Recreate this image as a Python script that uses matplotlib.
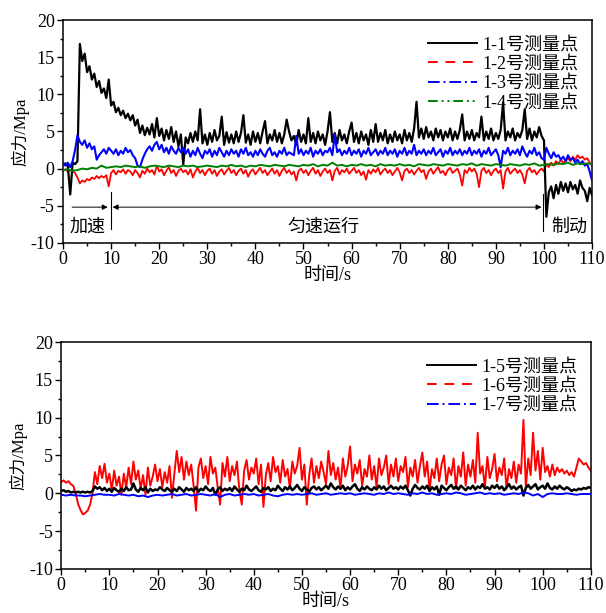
import numpy as np
import matplotlib
matplotlib.use("Agg")
import matplotlib.pyplot as plt
from matplotlib.lines import Line2D
from matplotlib.ticker import MultipleLocator

plt.rcParams['font.family'] = ['Liberation Serif', 'Noto Sans CJK SC']
plt.rcParams['axes.unicode_minus'] = False

# time axes: 0.5 s and 1 s sampling
t_half = np.arange(0, 110.01, 0.5)
t_one = np.arange(0, 110.01, 1.0)

# ---- upper panel: 1-1 .. 1-4 (MPa) ----
s11 = [0.5, 0.7, 0.3, -3.5, 0.8, 0.6, 1.0, 16.8, 14.5, 15.5,
       13.0, 13.8, 12.0, 12.8, 11.0, 11.8, 10.2, 10.8, 9.5, 12.0,
       8.5, 9.0, 7.6, 8.2, 7.2, 7.8, 6.8, 7.4, 6.5, 7.2,
       5.8, 6.6, 4.8, 5.8, 4.5, 5.5, 4.6, 6.0, 4.2, 6.8,
       4.4, 5.4, 3.8, 5.2, 4.0, 5.6, 3.6, 5.0, 3.0, 4.6,
       0.5, 4.2, 3.4, 4.8, 3.6, 5.0, 3.8, 8.0, 3.4, 4.6,
       3.2, 4.8, 3.6, 5.2, 3.8, 4.4, 7.0, 3.2, 4.9, 3.5,
       4.6, 3.4, 5.0, 3.6, 4.8, 7.2, 3.5, 4.6, 3.2, 5.0,
       3.6, 4.8, 3.4, 5.0, 6.4, 3.4, 4.6, 3.8, 5.2, 3.6,
       4.8, 3.4, 4.6, 6.6, 5.0, 3.8, 4.4, 3.2, 5.2, 3.6,
       4.6, 3.4, 6.8, 3.6, 4.8, 3.4, 5.0, 3.8, 4.6, 3.2,
       5.0, 7.6, 3.6, 4.8, 3.4, 5.2, 3.8, 4.6, 3.4, 5.0,
       6.2, 3.6, 4.8, 3.4, 5.0, 3.8, 4.6, 3.2, 5.2, 3.6,
       6.0, 3.6, 4.8, 3.8, 5.2, 3.4, 4.6, 3.6, 5.0, 3.8,
       4.6, 3.4, 5.2, 3.8, 4.8, 3.6, 5.4, 9.0, 4.2, 5.4,
       4.0, 5.6, 4.2, 5.0, 3.8, 5.4, 4.2, 5.2, 3.8, 5.0,
       4.2, 5.4, 3.8, 5.0, 4.0, 5.2, 7.3, 3.8, 5.0, 4.0,
       5.2, 3.8, 4.8, 4.2, 7.0, 3.8, 5.0, 4.0, 5.4, 3.8,
       4.8, 4.0, 5.2, 8.9, 3.8, 5.0, 4.2, 5.4, 3.8, 4.8,
       4.2, 5.2, 8.0, 4.0, 5.4, 3.8, 5.0, 4.2, 5.6, 4.4,
       3.8, -6.5, -3.2, -2.4, -4.0, -2.2, -3.4, -1.8, -3.0, -2.0,
       -3.2, -1.8, -2.8, -2.2, -3.4, -1.6, -2.6, -3.0, -4.4, -2.6,
       -3.6]

s12 = [-0.3, -0.1, -0.4, -0.2, -0.3, -0.6, -1.2, -2.0, -1.6, -1.8,
       -1.4, -1.6, -1.2, -1.4, -1.0, -1.3, -1.0, -1.2, -0.9, -2.4,
       -0.6, -0.2, -0.8, -0.3, -0.5, -0.1, -0.7, -0.2, -0.4, -0.9,
       -0.2, -0.6, -1.2, -0.3, -0.7, 0.0, -0.5, -0.2, -0.8, 0.4,
       -0.4, -0.1, -0.9, -0.3, 0.2, -0.6, -0.2, -1.0, -0.3, 0.0,
       -0.5, -0.2, -0.8, -0.1, -1.2, -0.4, 0.1, -0.6, -0.2, -0.9,
       -0.3, 0.0, -0.7, -0.2, -1.0, -0.4, -0.1, -0.8, -0.3, 0.1,
       -0.6, -0.2, -0.9, -0.3, 0.0, -0.7, -0.2, -1.1, -0.4, -0.1,
       -0.8, -0.3, 0.1, -0.6, -0.2, -0.9, -0.4, 0.0, -0.7, -0.2,
       -1.0, -0.3, 0.1, -0.6, -0.2, -0.8, -0.4, -1.6, -0.3, 0.0,
       -0.6, -0.2, -0.9, -0.3, 0.1, -0.7, -0.2, -1.0, -0.4, 0.0,
       -0.6, -0.2, -1.6, -0.3, 0.1, -0.8, -0.2, -0.5, 0.0, -0.7,
       -0.3, 0.1, -0.6, -0.2, -0.9, -0.4, -1.5, -0.2, -0.7, -0.1,
       -0.5, 0.1, -0.8, -0.3, 0.0, -0.6, -0.2, -0.9, -0.4, 0.1,
       -0.5, -1.6, -0.3, 0.0, -0.6, -0.2, -0.8, -0.3, 0.1, -0.5,
       -0.2, -1.4, -0.4, 0.0, -0.7, -0.2, 0.2, -0.6, -0.3, -0.9,
       -0.2, 0.1, -0.6, -0.3, 0.0, -0.8, -2.3, -0.2, -0.6, 0.1,
       -0.4, 0.0, -0.7, -2.5, -0.3, 0.1, -0.6, -0.2, -0.9, -0.3,
       0.0, -0.6, -0.2, -2.7, -0.4, 0.1, -0.7, -0.3, 0.0, -0.6,
       -0.2, -0.8, -2.0, -0.3, 0.1, -0.5, -0.2, -0.8, -0.3, 0.0,
       -0.4, 0.6, 0.2, 0.8, 0.4, 1.0, 0.6, 1.2, 0.8, 1.0,
       1.4, 1.0, 1.6, 1.2, 1.8, 1.4, 1.6, 1.2, 1.4, 0.8,
       0.4]

s13 = [0.6, 0.4, 0.8, 0.2, 1.0, 2.5, 4.5, 3.6, 3.2, 3.8,
       2.8, 3.4, 2.6, 3.0, 1.2, 1.8, 2.2, 2.6, 2.0, 2.8,
       2.4, 2.0, 2.6, 1.8, 2.4, 2.0, 2.8, 2.2, 2.5, 1.8,
       1.4, 0.4, 0.2, 1.2, 2.0, 2.6, 3.0, 2.4, 3.2, 3.6,
       2.6, 3.2, 2.2, 2.8, 2.0, 3.0, 2.4, 2.0, 2.8, 2.2,
       2.8, 2.0, 2.6, 1.6, 2.4, 1.8, 2.8, 2.0, 1.4, 2.4,
       2.0, 2.6, 1.6, 2.4, 1.8, 2.8, 2.2, 1.6, 2.4, 1.8,
       2.6, 2.0, 2.4, 1.6, 2.6, 2.0, 2.8, 1.8, 2.2, 1.6,
       2.4, 1.8, 2.6, 2.0, 1.6, 2.4, 2.8, 1.8, 2.2, 1.6,
       2.4, 2.0, 2.8, 1.8, 2.2, 2.0, 1.8, 4.4, 2.0, 2.6,
       1.8, 2.4, 2.0, 2.8, 1.6, 2.4, 2.0, 2.6, 1.8, 2.4,
       2.2, 2.8, 1.8, 4.6, 2.2, 2.6, 1.8, 2.4, 2.0, 2.8,
       1.8, 2.4, 2.0, 2.6, 1.6, 2.4, 2.0, 2.8, 1.8, 2.2,
       2.6, 1.8, 2.4, 2.0, 2.8, 1.8, 2.4, 2.0, 2.6, 1.6,
       2.4, 2.0, 2.8, 1.8, 2.4, 2.0, 3.2, 1.8, 2.4, 2.0,
       2.6, 1.8, 2.4, 2.0, 2.8, 1.8, 2.2, 2.6, 1.6, 2.4,
       2.0, 2.8, 1.8, 2.4, 2.0, 2.6, 1.8, 2.4, 2.0, 2.8,
       1.8, 2.4, 2.0, 2.6, 1.6, 2.4, 2.0, 2.8, 1.8, 2.2,
       2.6, 1.8, 0.2, 2.4, 2.0, 2.8, 1.8, 2.4, 2.0, 2.6,
       1.8, 3.0, 2.2, 1.6, 2.4, 2.0, 2.8, 1.8, 2.2, 1.4,
       1.2, 2.8, 2.0, 1.4, 2.2, 1.6, 1.8, 1.2, 1.6, 1.0,
       1.8, 1.2, 1.4, 0.8, 1.2, 0.6, 1.0, 0.4, 0.6, -0.4,
       -1.6]

s14 = [-0.2, -0.1, -0.3, -0.2, 0.0, -0.1, 0.1, 0.0, 0.4, 0.1,
       0.2, 0.3, 0.2, 0.4, 0.3, 0.2, 0.3, 0.1, 0.3, 0.4,
       0.3, 0.2, 0.4, 0.3, 0.2, 0.4, 0.3, 0.4, 0.2, 0.3,
       0.4, 0.3, 0.2, 0.4, 0.3, 0.5, 0.3, 0.4, 0.2, 0.4,
       0.3, 0.5, 0.4, 0.3, 0.5, 0.4, 0.3, 0.5, 0.4, 0.3,
       0.5, 0.4, 0.6, 0.3, 0.5, 0.4, 0.8, 0.4, 0.5, 0.3,
       0.5, 0.4, 0.6, 0.4, 0.5, 0.3, 0.6, 0.4, 0.5, 0.4,
       0.6, 0.4, 0.5, 0.3, 0.6, 0.5, 0.4, 0.6, 0.5, 0.4,
       0.6, 0.5, 0.4, 0.6, 0.5, 0.7, 0.4, 0.6, 0.5, 0.4,
       0.6, 0.5, 0.4, 0.6, 0.5, 0.4, 0.6, 0.5, 0.7, 0.4,
       0.5, 0.6, 0.5, 0.7, 0.6, 0.8, 0.5, 0.7, 0.6, 0.7, 0.6]

# ---- lower panel: 1-5 .. 1-7 (MPa) ----
s15 = [0.3, 0.4, 0.2, 0.3, 0.1, 0.2, 0.1, 0.2, 0.1, 0.2,
       0.1, 0.2, 0.1, 0.3, 0.9, 0.6, 0.8, 0.4, 0.7, 0.3,
       0.6, 0.2, 0.7, 0.4, 0.2, 0.6, 0.3, 0.8, 0.4, 0.5,
       1.3, 0.5, 0.2, 0.7, 0.4, 0.8, 0.1, 0.6, 0.3, 0.5,
       0.4, 0.8, 0.5, 0.3, 0.7, 0.4, 0.2, 0.6, 0.3, 0.8,
       0.5, 0.2, 0.7, 0.4, 0.6, 0.3, 0.8, 0.2, 0.6, 0.4,
       0.9, 0.5, 0.3, 0.7, -0.2, 0.5, 0.8, 0.3, 0.6, 0.4,
       0.7, 0.3, 0.9, 0.5, 0.2, 0.6, 0.4, 1.0, 0.5, 0.3,
       0.6, 0.9, 0.4, 0.2, 0.7, 0.5, 0.8, 0.3, 0.6, 0.4,
       1.0, 0.6, 0.3, 0.8, 0.5, 0.9, 0.4, 0.7, 1.1, 0.6,
       0.3, 0.8, 0.5, 0.2, 0.7, 0.9, 0.5, 0.8, 0.4, 0.7,
       1.0, 0.6, 1.3, 0.8, 0.5, 0.9, 0.6, 1.0, 0.4, 0.8,
       0.5, 0.9, 1.2, 0.6, 0.3, 0.8, 0.5, 0.9, 0.6, 0.4,
       0.8, 0.5, 1.0, 0.6, 0.9, 0.4, 0.7, 1.0, 0.6, 0.8,
       0.5, 0.9, 0.6, 1.0, 0.4, -0.3, 0.6, 1.1, 0.7, 0.5,
       0.9, 0.6, 1.0, 0.3, 0.8, 0.5, 0.9, -0.2, 1.0, 0.7,
       0.4, 0.8, 1.1, 0.6, 0.9, 0.5, 1.0, 0.7, 0.4, 0.8,
       0.6, 1.0, 0.5, 0.9, 0.7, 1.2, 0.6, 0.8, 0.5, 1.0,
       0.7, 1.1, 0.6, 0.9, 0.4, 0.8, 1.2, 0.6, 0.9, 0.5,
       0.8, 1.0, -0.3, 0.7, 1.1, 0.6, 0.9, 1.2, 0.5, 0.8,
       1.0, 0.6, 1.3, 0.7, 0.5, 0.9, 0.6, 1.0, 0.7, 0.5,
       0.8, 0.6, 0.3, 0.5, 0.4, 0.6, 0.5, 0.7, 0.6, 0.8,
       0.7]

s16 = [1.5, 1.7, 1.4, 1.6, 1.2, 1.0, 0.0, -1.4, -2.2, -2.8,
       -2.6, -2.3, -1.5, 0.0, 2.8, 1.2, 3.6, 2.0, 3.9, 1.4,
       2.6, 0.4, 3.0, 1.0, 2.2, -0.2, 2.6, 0.8, 3.4, 1.2,
       4.2, 1.8, 3.0, 0.6, 2.4, -0.2, 3.4, 1.0, 2.2, 3.8,
       1.6, 3.2, 0.8, 2.8, 1.4, 3.6, -0.6, 2.6, 5.6, 2.8,
       4.8, 1.8, 4.2, 2.4, 3.8, 1.0, -2.3, 3.4, 4.6, 2.0,
       3.6, 1.2, 4.8, 2.6, 3.4, 0.8, -1.5, 4.0, 2.2, 4.8,
       1.6, 3.6, 2.4, 4.2, 0.4, -1.5, 3.0, 4.4, 1.8, 3.4,
       2.6, 4.6, 1.2, 3.8, -1.8, 2.4, 4.0, 1.6, 4.8, 2.8,
       3.6, 1.4, 4.4, 2.2, 3.2, 0.6, 4.2, 2.6, 3.6, 6.0,
       1.8, 3.8, -1.5, 2.4, 4.6, 1.4, 3.6, 2.0, 4.2, 2.8,
       1.2, 5.6, 2.4, 4.0, 1.8, 3.4, 0.6, 4.6, 2.2, 3.6,
       6.2, 1.6, 3.8, 2.6, 4.4, 1.0, 3.2, 2.2, 5.0, 1.8,
       3.6, 0.8, 4.6, 2.4, 3.4, 5.0, 1.2, 3.8, 2.2, 4.6,
       1.6, 3.6, 2.8, 4.8, 0.8, 3.4, 2.2, 4.4, 1.4, 3.6,
       5.4, 2.2, 4.2, 0.4, 3.2, 2.0, 4.6, 1.6, 3.8, 5.0,
       1.2, 3.4, 2.4, 4.6, 0.6, 3.6, 2.2, 5.4, 1.0, 3.8,
       2.2, 4.4, 1.4, 8.0, 2.6, 3.6, 0.8, 4.8, 2.0, 3.2,
       5.2, 1.6, 3.4, 2.4, 4.6, 0.6, 3.2, 2.0, 4.2, 1.4,
       3.8, 2.6, 9.7, 0.8, 4.6, 2.4, 8.0, 3.0, 5.6, 1.8,
       6.0, 2.8, 3.6, 2.2, 3.8, 2.4, 3.4, 2.8, 3.2, 2.6,
       3.0, 2.4, 2.8, 2.2, 3.4, 4.6, 4.2, 3.8, 4.0, 3.4,
       3.0]

s17 = [-0.2, -0.3, -0.2, -0.3, -0.3, -0.4, -0.3, -0.2, -0.1, -0.2,
       -0.2, -0.3, -0.1, -0.2, -0.3, -0.2, -0.4, -0.3, -0.5, -0.3,
       -0.2, -0.3, -0.2, -0.1, -0.3, -0.2, -0.1, -0.3, -0.2, -0.1,
       -0.2, -0.3, -0.1, -0.5, -0.2, -0.1, -0.3, -0.2, -0.1, -0.2,
       -0.1, -0.3, -0.2, -0.1, -0.3, -0.4, -0.2, -0.1, -0.2, -0.1,
       -0.2, -0.1, 0.0, -0.2, -0.1, 0.0, -0.2, -0.1, 0.0, -0.1,
       0.0, -0.2, -0.1, 0.0, -0.1, -0.2, 0.0, -0.1, 0.1, -0.1,
       0.0, -0.1, -0.2, 0.0, -0.1, 0.1, -0.1, 0.0, -0.2, -0.1,
       0.0, -0.1, 0.1, 0.0, -0.2, -0.1, 0.0, 0.1, -0.1, 0.0,
       -0.1, 0.0, -0.2, -0.1, 0.0, -0.1, 0.1, 0.0, -0.3, -0.1,
       -0.5, -0.1, 0.0, -0.1, -0.1, 0.0, -0.1, -0.2, -0.1, -0.1, -0.1]

top_labels = ["1-1号测量点", "1-2号测量点", "1-3号测量点", "1-4号测量点"]
bot_labels = ["1-5号测量点", "1-6号测量点", "1-7号测量点"]
colors_top = ["black", "red", "blue", "green"]
colors_bot = ["black", "red", "blue"]
styles_top = ["-", (0, (5, 4)), (0, (6, 2, 1, 2)), (0, (5, 2, 1, 2, 1, 2))]
styles_bot = ["-", (0, (5, 4)), (0, (6, 2, 1, 2))]

fig = plt.figure(figsize=(6.06, 6.13), dpi=100)
ax1 = fig.add_axes([0.104, 0.604, 0.873, 0.363])
ax2 = fig.add_axes([0.101, 0.072, 0.874, 0.370])


def style_axis(ax):
    ax.set_xlim(0, 110)
    ax.set_ylim(-10, 20)
    ax.xaxis.set_major_locator(MultipleLocator(10))
    ax.xaxis.set_minor_locator(MultipleLocator(5))
    ax.yaxis.set_major_locator(MultipleLocator(5))
    ax.yaxis.set_minor_locator(MultipleLocator(2.5))
    ax.tick_params(which='both', direction='out', labelsize=13, width=1.0, pad=2)
    ax.tick_params(which='major', length=4)
    ax.tick_params(which='minor', length=2.5)
    for sp in ax.spines.values():
        sp.set_linewidth(1.1)
    ax.set_xlabel("时间/s", fontsize=13, labelpad=-1)
    ax.set_ylabel("应力/Mpa", fontsize=12, labelpad=1)


# upper panel
ax1.plot(t_half, s11, color="black", lw=1.6, zorder=3)
ax1.plot(t_half, s13, color="blue", lw=1.5, zorder=4)
ax1.plot(t_half, s12, color="red", lw=1.3, zorder=2)
ax1.plot(t_one, s14, color="green", lw=1.4, zorder=5)
style_axis(ax1)

handles = [Line2D([], [], color=c, ls=s, lw=1.4) for c, s in zip(colors_top, styles_top)]
ax1.legend(handles, top_labels, loc='upper right', frameon=False, fontsize=13,
           handlelength=2.7, handletextpad=0.3, labelspacing=0.12,
           borderaxespad=0.2, bbox_to_anchor=(0.995, 0.975))

# stage markers
ax1.plot([10, 10], [-3.2, -8.2], color="black", lw=0.8)
ax1.plot([99.7, 99.7], [-3.4, -8.4], color="black", lw=0.8)
ax1.annotate("", xy=(9.3, -5.2), xytext=(1.9, -5.2),
             arrowprops=dict(arrowstyle="-|>", color="black", lw=0.7,
                             mutation_scale=8, shrinkA=0, shrinkB=0))
ax1.annotate("", xy=(99.5, -5.2), xytext=(10.3, -5.2),
             arrowprops=dict(arrowstyle="<|-|>", color="black", lw=0.7,
                             mutation_scale=8, shrinkA=0, shrinkB=0))
ax1.text(5.0, -7.9, "加速", fontsize=13, ha='center', va='center')
ax1.text(54.2, -7.9, "匀速运行", fontsize=13, ha='center', va='center')
ax1.text(105.2, -7.9, "制动", fontsize=13, ha='center', va='center')

# lower panel
ax2.plot(t_half, s16, color="red", lw=1.4, zorder=2)
ax2.plot(t_half, s15, color="black", lw=1.8, zorder=3)
ax2.plot(t_one, s17, color="blue", lw=1.4, zorder=4)
style_axis(ax2)

handles = [Line2D([], [], color=c, ls=s, lw=1.4) for c, s in zip(colors_bot, styles_bot)]
ax2.legend(handles, bot_labels, loc='upper right', frameon=False, fontsize=13,
           handlelength=2.7, handletextpad=0.3, labelspacing=0.12,
           borderaxespad=0.2, bbox_to_anchor=(0.995, 0.975))

fig.savefig("out.png", dpi=100)
